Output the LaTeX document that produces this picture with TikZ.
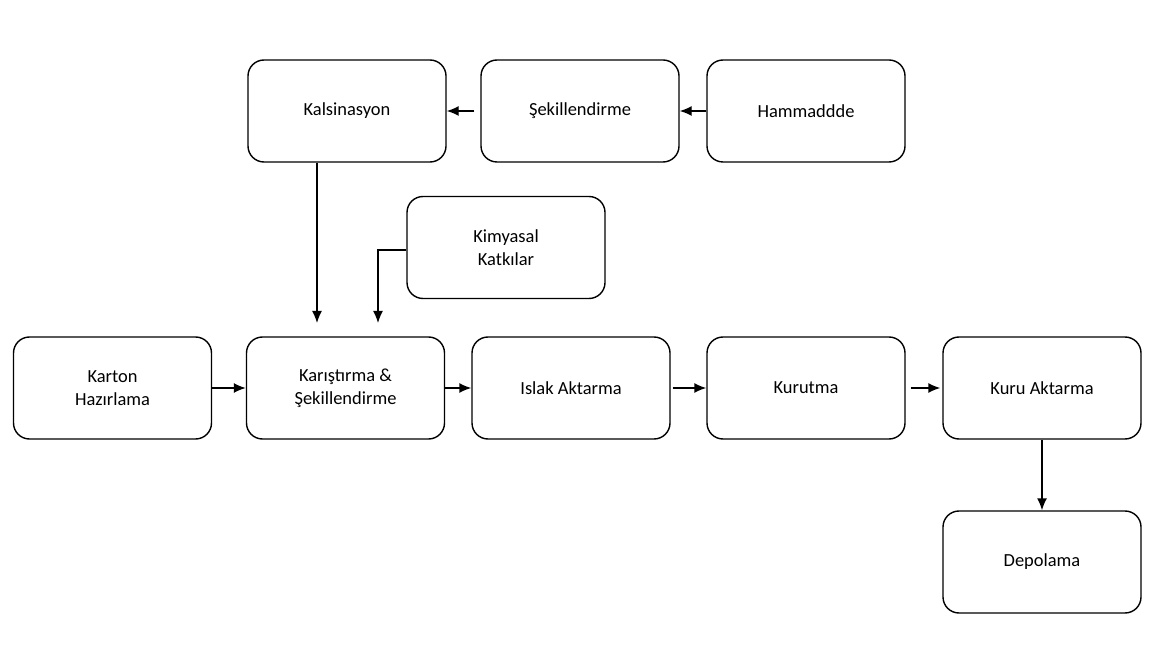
\documentclass[tikz,border=0pt]{standalone}
\usepackage{fontspec}
\setmainfont{Carlito}
\usetikzlibrary{arrows.meta}
\tikzset{stepbox/.style={draw,thick,rounded corners=0.32cm,minimum width=3.96cm,minimum height=2.04cm,align=center,font=\fontsize{10.5}{13}\selectfont},
  flow/.style={thick,-{Latex[length=2.4mm,width=2mm]}}}
\begin{document}
\begin{tikzpicture}
    \useasboundingbox (0,0) rectangle (23.1,-13);
    \node[stepbox] (kalsin) at (6.94,-2.22) {Kalsinasyon};
    \node[stepbox] (sekil) at (11.6,-2.22) {Şekillendirme};
    \node[stepbox] (hammadde) at (16.12,-2.22) {Hammaddde};
    \node[stepbox] (kimya) at (10.12,-4.95) {Kimyasal\\Katkılar};
    \node[stepbox] (karton) at (2.25,-7.76) {Karton\\Hazırlama};
    \node[stepbox] (karis) at (6.91,-7.76) {Karıştırma \&\\Şekillendirme};
    \node[stepbox] (islak) at (11.42,-7.76) {Islak Aktarma};
    \node[stepbox] (kurutma) at (16.12,-7.76) {Kurutma};
    \node[stepbox] (kuru) at (20.84,-7.76) {Kuru Aktarma};
    \node[stepbox] (depo) at (20.84,-11.24) {Depolama};
    \coordinate (kalend) at (6.34,-6.46);
    \coordinate (kimend) at (7.56,-6.46);
    % top row
    \draw[flow] (hammadde.west) -- (sekil.east);
    \draw[flow] ([xshift=-0.12cm]sekil.west) -- (kalsin.east);
    % feeds into mixing
    \draw[flow] (kalsin.south -| kalend) -- (kalend);
    \draw[flow] (kimya.west |- 0,-5.0) -- (7.56,-5.0) -- (kimend);
    % main line
    \draw[flow] (karton.east) -- (karis.west);
    \draw[flow] (karis.east) -- (islak.west);
    \draw[flow] ([xshift=0.04cm]islak.east) -- (kurutma.west);
    \draw[flow] ([xshift=0.1cm]kurutma.east) -- ([xshift=-0.04cm]kuru.west);
    \draw[flow] (kuru.south) -- (depo.north);
\end{tikzpicture}
\end{document}
